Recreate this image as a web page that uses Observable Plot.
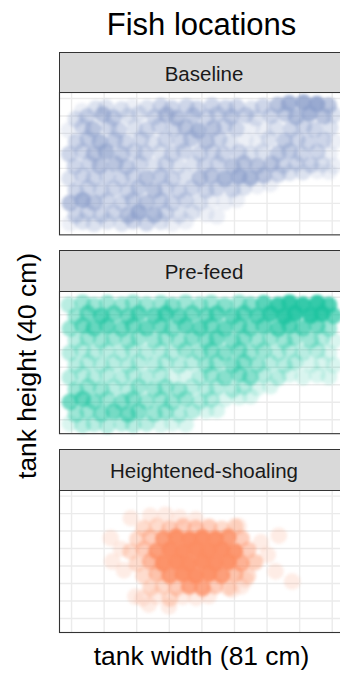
<!DOCTYPE html>
<html>
<head>
<meta charset="utf-8">
<script src="https://cdn.jsdelivr.net/npm/d3@7"></script>
<script src="https://cdn.jsdelivr.net/npm/@observablehq/plot@0.6"></script>
<style>
  html, body { margin: 0; padding: 0; background: #fff; overflow: hidden; }
  #wrap { position: relative; width: 340px; height: 677px; overflow: hidden; font-family: "Liberation Sans", Arial, sans-serif; }
  #wrap svg { position: absolute; left: 0; top: 0; max-width: none; }
  .ttl { position: absolute; white-space: nowrap; line-height: 1; color: #000; }
  .strip { position: absolute; box-sizing: border-box; background: #d9d9d9; border: 1px solid #333; display: flex; align-items: center; justify-content: center; color: #1a1a1a; font-size: 20.5px; padding-top: 3px; line-height: 1; }
</style>
</head>
<body>
<div id="wrap"></div>
<script>
const phases = ["Baseline", "Pre-feed", "Heightened-shoaling"];
const phaseColors = ["#8da0cb", "#1dc4a0", "#fc8d62"];
const xGrid = [0, 10, 20, 30, 40, 50, 60, 70, 80];
const yGrid = [0, 5, 10, 15, 20, 25, 30, 35];
const titleText = "Fish locations";
const xTitle = "tank width (81 cm)";
const yTitle = "tank height (40 cm)";

// [x (cm), depth from top (cm), number of overlapping fixes]
const baseline = [
[3.2,3.6,1],[7.4,2.9,2],[10.6,2.6,2],[15.3,3.1,2],[18.7,2.4,1],[23.2,2.7,2],[27.4,2.2,3],[30.8,2.8,3],[35.3,2.3,3],[38.6,2.9,3],[43.1,2.1,3],[47.3,2.7,3],[50.7,2.4,3],[55.2,2.9,2],[58.8,2.3,3],[63.3,1.9,5],[66.8,1.4,8],[71.2,1.2,10],[75.3,1.6,12],[78.9,2.0,5],
[1.3,5.9,2],[4.8,5.2,3],[9.6,4.6,5],[12.8,5.5,4],[17.4,5.0,2],[20.7,4.4,2],[25.5,5.3,3],[29.1,4.7,5],[32.4,5.6,5],[37.2,4.9,4],[41.6,5.4,3],[44.8,4.5,3],[49.0,5.2,4],[53.4,4.8,3],[56.6,5.6,2],[61.2,5.0,3],[65.6,4.4,4],[68.9,5.3,6],[73.0,4.3,8],[77.4,5.1,5],[80.5,4.7,2],
[-0.8,9.1,1],[3.5,8.1,3],[6.6,8.8,5],[11.4,8.2,3],[14.5,9.0,3],[19.4,8.4,2],[23.1,8.9,3],[27.0,7.9,3],[31.4,8.6,3],[35.0,8.3,5],[38.9,9.2,7],[43.5,8.5,5],[47.0,7.9,3],[50.6,8.7,3],[55.5,8.2,1],[59.0,9.1,1],[62.6,8.4,2],[67.4,8.8,3],[71.3,8.0,3],[74.6,8.9,3],[79.4,8.4,2],
[1.4,12.5,3],[5.0,11.6,4],[8.7,12.4,6],[13.3,11.9,4],[16.6,12.5,3],[21.4,11.7,3],[25.0,12.6,2],[28.9,11.8,3],[33.5,12.2,3],[36.7,11.5,4],[41.4,12.3,5],[45.3,11.7,3],[48.6,12.6,2],[53.4,11.9,1],[57.0,12.4,1],[60.6,11.6,2],[65.4,12.1,4],[69.3,11.8,3],[72.6,12.6,3],[77.4,11.9,3],[80.6,12.3,1],
[-0.7,15.9,3],[3.4,15.1,3],[6.9,15.8,5],[10.6,15.2,7],[15.4,15.9,4],[19.3,15.1,3],[22.6,15.6,3],[27.4,15.2,2],[30.9,15.9,3],[34.6,15.1,3],[39.4,15.7,3],[43.3,15.3,3],[46.6,16.0,3],[51.4,15.4,3],[54.9,15.9,2],[58.6,15.2,2],[63.4,15.7,4],[66.9,15.1,4],[70.6,15.9,3],[75.4,15.3,3],[79.2,15.8,1],
[1.0,19.4,3],[5.4,18.6,3],[8.7,19.3,5],[13.4,18.7,5],[16.9,19.5,4],[21.0,18.6,3],[25.4,19.3,2],[28.9,18.8,3],[32.6,19.4,2],[37.4,18.6,2],[40.9,19.1,3],[45.0,18.7,3],[49.4,19.4,5],[52.9,18.6,5],[57.0,19.3,5],[61.4,18.7,5],[64.9,19.2,3],[69.0,18.6,3],[73.4,19.0,3],[76.9,18.8,2],[80.5,19.3,1],
[-0.6,22.9,2],[3.4,22.1,3],[6.9,22.8,3],[11.0,22.2,3],[15.4,22.9,3],[18.9,22.1,3],[23.0,22.8,5],[27.4,22.2,4],[30.9,22.9,3],[35.0,22.1,2],[39.4,22.8,5],[42.9,22.2,5],[47.0,22.9,7],[51.4,22.3,8],[54.9,22.7,7],[59.0,22.0,5],[63.4,21.7,3],[66.9,21.3,2],[71.0,21.1,2],[75.4,20.8,1],[79.0,21.0,1],
[1.3,26.4,3],[5.0,25.6,3],[9.1,26.3,3],[13.0,25.7,3],[17.3,26.5,3],[20.6,25.6,4],[25.4,26.3,5],[28.9,25.7,3],[33.0,26.4,3],[37.0,25.6,3],[41.3,26.3,3],[44.6,25.7,3],[49.4,26.0,3],[52.9,25.5,2],[57.0,25.1,1],[61.0,24.5,1],
[-0.5,29.9,5],[3.4,29.1,8],[6.9,29.8,5],[11.0,29.2,3],[15.4,29.9,3],[18.9,29.1,4],[23.0,29.8,5],[27.4,29.2,4],[30.9,29.9,3],[35.0,29.1,3],[39.4,29.8,2],[42.9,29.2,1],[47.0,29.7,1],[50.7,29.0,1],
[1.3,33.4,3],[5.0,32.6,3],[9.1,33.3,3],[13.0,32.7,3],[17.3,33.4,5],[20.6,32.6,8],[25.4,33.3,6],[28.9,32.7,3],[33.0,33.4,2],[37.0,32.6,2],[41.3,33.1,1],[44.6,33.7,1],
[-0.5,35.7,1],[3.4,35.3,2],[6.9,35.9,2],[11.0,35.2,2],[15.4,35.8,2],[18.9,35.1,3],[23.0,35.7,3],[27.4,35.3,2],[30.9,35.8,1],[35.0,35.2,1]
];

const prefeed = [
[-0.8,2.2,2],[3.4,1.5,3],[6.9,2.3,3],[11.0,1.6,3],[15.4,2.2,3],[18.9,1.5,3],[23.0,2.1,3],[27.4,1.7,3],[30.9,2.3,4],[35.0,1.5,3],[39.4,2.1,3],[42.9,1.6,3],[47.0,2.3,4],[51.4,1.5,3],[54.9,2.1,4],[59.0,1.7,7],[63.4,2.2,10],[66.9,1.5,12],[71.0,2.1,12],[75.4,1.6,12],[79.0,2.2,8],
[1.3,5.4,3],[5.0,4.6,5],[9.1,5.3,7],[13.0,4.7,5],[17.3,5.4,5],[20.6,4.6,6],[25.4,5.3,6],[28.9,4.7,7],[33.0,5.4,6],[37.0,4.6,5],[41.3,5.2,5],[44.6,4.7,6],[49.4,5.4,6],[52.9,4.6,6],[57.0,5.3,7],[61.0,4.7,10],[65.3,5.4,12],[68.6,4.6,13],[73.4,5.2,13],[76.9,4.7,12],[80.5,5.3,6],
[-0.5,8.9,3],[3.4,8.1,5],[6.9,8.8,6],[11.0,8.2,6],[15.4,8.9,5],[18.9,8.1,5],[23.0,8.8,6],[27.4,8.2,5],[30.9,8.9,4],[35.0,8.1,6],[39.4,8.8,6],[42.9,8.2,5],[47.0,8.9,6],[51.4,8.1,5],[54.9,8.8,5],[59.0,8.2,6],[63.4,8.9,7],[66.9,8.1,7],[71.0,8.8,6],[75.4,8.2,5],[79.0,8.9,3],
[1.3,12.4,2],[5.0,11.6,3],[9.1,12.3,3],[13.0,11.7,3],[17.3,12.4,3],[20.6,11.6,3],[25.4,12.3,3],[28.9,11.7,3],[33.0,12.4,3],[37.0,11.6,4],[41.3,12.3,4],[44.6,11.7,5],[49.4,12.4,4],[52.9,11.6,4],[57.0,12.3,3],[61.0,11.7,3],[65.3,12.4,3],[68.6,11.6,3],[73.4,12.3,3],[76.9,11.7,2],[80.5,12.4,1],
[-0.5,15.9,2],[3.4,15.1,2],[6.9,15.8,2],[11.0,15.2,2],[15.4,15.9,2],[18.9,15.1,2],[23.0,15.8,2],[27.4,15.2,2],[30.9,15.9,2],[35.0,15.1,3],[39.4,15.8,3],[42.9,15.2,4],[47.0,15.9,4],[51.4,15.1,4],[54.9,15.8,3],[59.0,15.2,3],[63.4,15.9,2],[66.9,15.1,2],[71.0,15.8,2],[75.4,15.2,2],[79.0,15.9,1],
[1.3,19.4,2],[5.0,18.6,2],[9.1,19.3,2],[13.0,18.7,2],[17.3,19.4,2],[20.6,18.6,2],[25.4,19.3,2],[28.9,18.7,2],[33.0,19.4,2],[37.0,18.6,2],[41.3,19.3,3],[44.6,18.7,3],[49.4,19.4,4],[52.9,18.6,4],[57.0,19.3,3],[61.0,18.7,2],[65.3,19.4,2],[68.6,18.6,2],[73.4,19.3,1],[76.9,18.7,1],[80.5,19.4,1],
[-0.5,22.9,2],[3.4,22.1,2],[6.9,22.8,2],[11.0,22.2,2],[15.4,22.9,2],[18.9,22.1,2],[23.0,22.8,2],[27.4,22.2,2],[30.9,22.9,1],[35.0,22.1,1],[39.4,22.8,2],[42.9,22.2,3],[47.0,22.9,4],[51.4,22.1,4],[54.9,22.8,4],[59.0,22.2,2],[63.4,22.9,2],[66.9,22.1,1],[71.0,22.8,1],[75.4,22.2,1],[79.0,22.7,1],
[1.3,26.4,3],[5.0,25.6,3],[9.1,26.3,3],[13.0,25.7,2],[17.3,26.4,2],[20.6,25.6,3],[25.4,26.3,3],[28.9,25.7,3],[33.0,26.4,3],[37.0,25.6,2],[41.3,26.3,2],[44.6,25.7,2],[49.4,26.4,2],[52.9,25.6,2],[57.0,25.9,1],[61.0,25.4,1],
[-0.5,29.9,5],[3.4,29.1,6],[6.9,29.8,4],[11.0,29.2,3],[15.4,29.9,4],[18.9,29.1,4],[23.0,29.8,3],[27.4,29.2,3],[30.9,29.9,3],[35.0,29.1,3],[39.4,29.8,2],[42.9,29.2,2],[47.0,29.1,1],[51.4,28.6,1],[54.9,28.3,1],
[1.3,33.4,3],[5.0,32.6,3],[9.1,33.3,4],[13.0,32.7,5],[17.3,33.4,5],[20.6,32.6,4],[25.4,33.3,3],[28.9,32.7,3],[33.0,33.4,2],[37.0,32.6,2],[41.3,32.5,1],[44.6,32.3,1],
[-0.5,36.1,1],[3.4,36.6,2],[6.9,36.2,2],[11.0,36.7,2],[15.4,36.1,2],[18.9,36.5,2],[23.0,36.1,2],[27.4,36.4,1],[30.9,36.0,1],[35.0,36.3,1]
];

const heightened = [
[18.2,6.3,1],[24.1,5.6,1],[28.8,5.3,1],[33.2,6.1,1],[38.1,6.6,1],
[22.1,9.2,2],[26.2,8.6,2],[30.1,9.3,3],[34.2,8.7,3],[38.1,9.1,3],[42.2,8.8,3],[46.1,9.3,2],[50.2,8.7,2],
[20.2,12.3,2],[24.1,11.8,3],[28.2,12.2,10],[32.1,11.7,16],[36.2,12.3,18],[40.1,11.8,18],[44.2,12.2,16],[48.1,11.7,10],[52.2,12.1,3],
[18.1,15.8,2],[22.2,15.2,3],[26.1,15.7,10],[30.2,15.3,18],[34.1,15.8,20],[38.2,15.2,20],[42.1,15.7,20],[46.2,15.3,18],[50.1,15.8,13],[54.2,15.4,3],
[20.1,19.3,2],[24.2,18.7,5],[28.1,19.2,16],[32.2,18.8,20],[36.1,19.3,20],[40.2,18.7,20],[44.1,19.2,18],[48.2,18.8,16],[52.1,19.2,6],[56.2,18.8,2],
[22.1,22.8,2],[26.2,22.2,4],[30.1,22.7,10],[34.2,22.3,16],[38.1,22.8,18],[42.2,22.2,16],[46.1,22.7,10],[50.2,22.3,4],[54.1,22.8,2],
[24.2,26.3,2],[28.1,25.7,2],[32.2,26.2,3],[36.1,25.8,8],[40.2,26.3,8],[44.1,25.7,3],[48.2,26.2,2],[52.1,25.8,1],
[21.8,29.2,1],[26.1,28.7,1],[30.2,29.3,2],[34.1,28.8,1],[38.2,29.1,1],[42.1,28.6,1],
[12.0,12.0,1],[12.5,18.7,1],[63.6,11.3,1],[62.6,21.5,1],[67.7,24.4,1],[19.6,28.7,1],[23.7,31.0,1],[29.9,31.5,1],
[51.3,8.6,1],[53.4,23.9,1],[49.3,26.8,1],[56.4,19.1,1],[15.2,15.1,1],[16.1,21.2,1],[58.1,13.2,1],[60.2,16.8,1]
];

const table = [
  ...baseline.map(([x, y, n]) => ({phase: phases[0], x, y, n})),
  ...prefeed.map(([x, y, n]) => ({phase: phases[1], x, y, n})),
  ...heightened.map(([x, y, n]) => ({phase: phases[2], x, y, n}))
];

const W = 349, H = 677, mTop = 92, mBottom = 45, mLeft = 59, pad = 0.284, stripH = 41;
const alpha = 0.17; // opacity of a single fix

const plot = Plot.plot({
  width: W, height: H,
  marginTop: mTop, marginBottom: mBottom, marginLeft: mLeft, marginRight: 0,
  style: {background: "transparent", overflow: "hidden"},
  facet: {data: table, y: "phase"},
  fy: {domain: phases, paddingInner: pad, paddingOuter: 0, round: false, axis: null},
  x: {domain: [-3.7, 85.3], axis: null},
  y: {domain: [39.0, -1.7], axis: null},
  color: {domain: phases, range: phaseColors},
  opacity: {domain: [0, 1], range: [0, 1]},
  marks: [
    Plot.ruleX(xGrid, {stroke: "#ebebeb", strokeWidth: 1.4}),
    Plot.ruleY(yGrid, {stroke: "#ebebeb", strokeWidth: 1.4}),
    Plot.dot(table, {x: "x", y: "y", r: 8.3, fill: "phase", fillOpacity: d => 1 - Math.pow(1 - alpha, d.n), clip: true}),
    Plot.frame({stroke: "#333", strokeWidth: 1.1})
  ]
});

const wrap = document.getElementById("wrap");
wrap.appendChild(plot);
// soften the overplotted circles like a dense cloud of fixes
plot.querySelectorAll("g[aria-label='dot']").forEach(g => { g.style.filter = "blur(1.8px)"; });

const band = d3.scaleBand().domain(phases).range([mTop, H - mBottom]).paddingInner(pad).paddingOuter(0);
phases.forEach(p => {
  const s = document.createElement("div");
  s.className = "strip";
  s.style.left = mLeft + "px";
  s.style.width = (W - mLeft) + "px";
  s.style.top = (band(p) - stripH + 0.5) + "px";
  s.style.height = (stripH + 0.5) + "px";
  s.textContent = p;
  wrap.appendChild(s);
});

function addText(txt, cx, cy, size, rotate) {
  const t = document.createElement("div");
  t.className = "ttl";
  t.textContent = txt;
  t.style.fontSize = size + "px";
  t.style.left = cx + "px";
  t.style.top = cy + "px";
  t.style.transform = "translate(-50%,-50%)" + (rotate ? " rotate(-90deg)" : "");
  wrap.appendChild(t);
}
addText(titleText, 201.5, 24, 31, false);
addText(xTitle, 201.5, 656, 26.4, false);
addText(yTitle, 27, 366, 26.4, true);
</script>
</body>
</html>
